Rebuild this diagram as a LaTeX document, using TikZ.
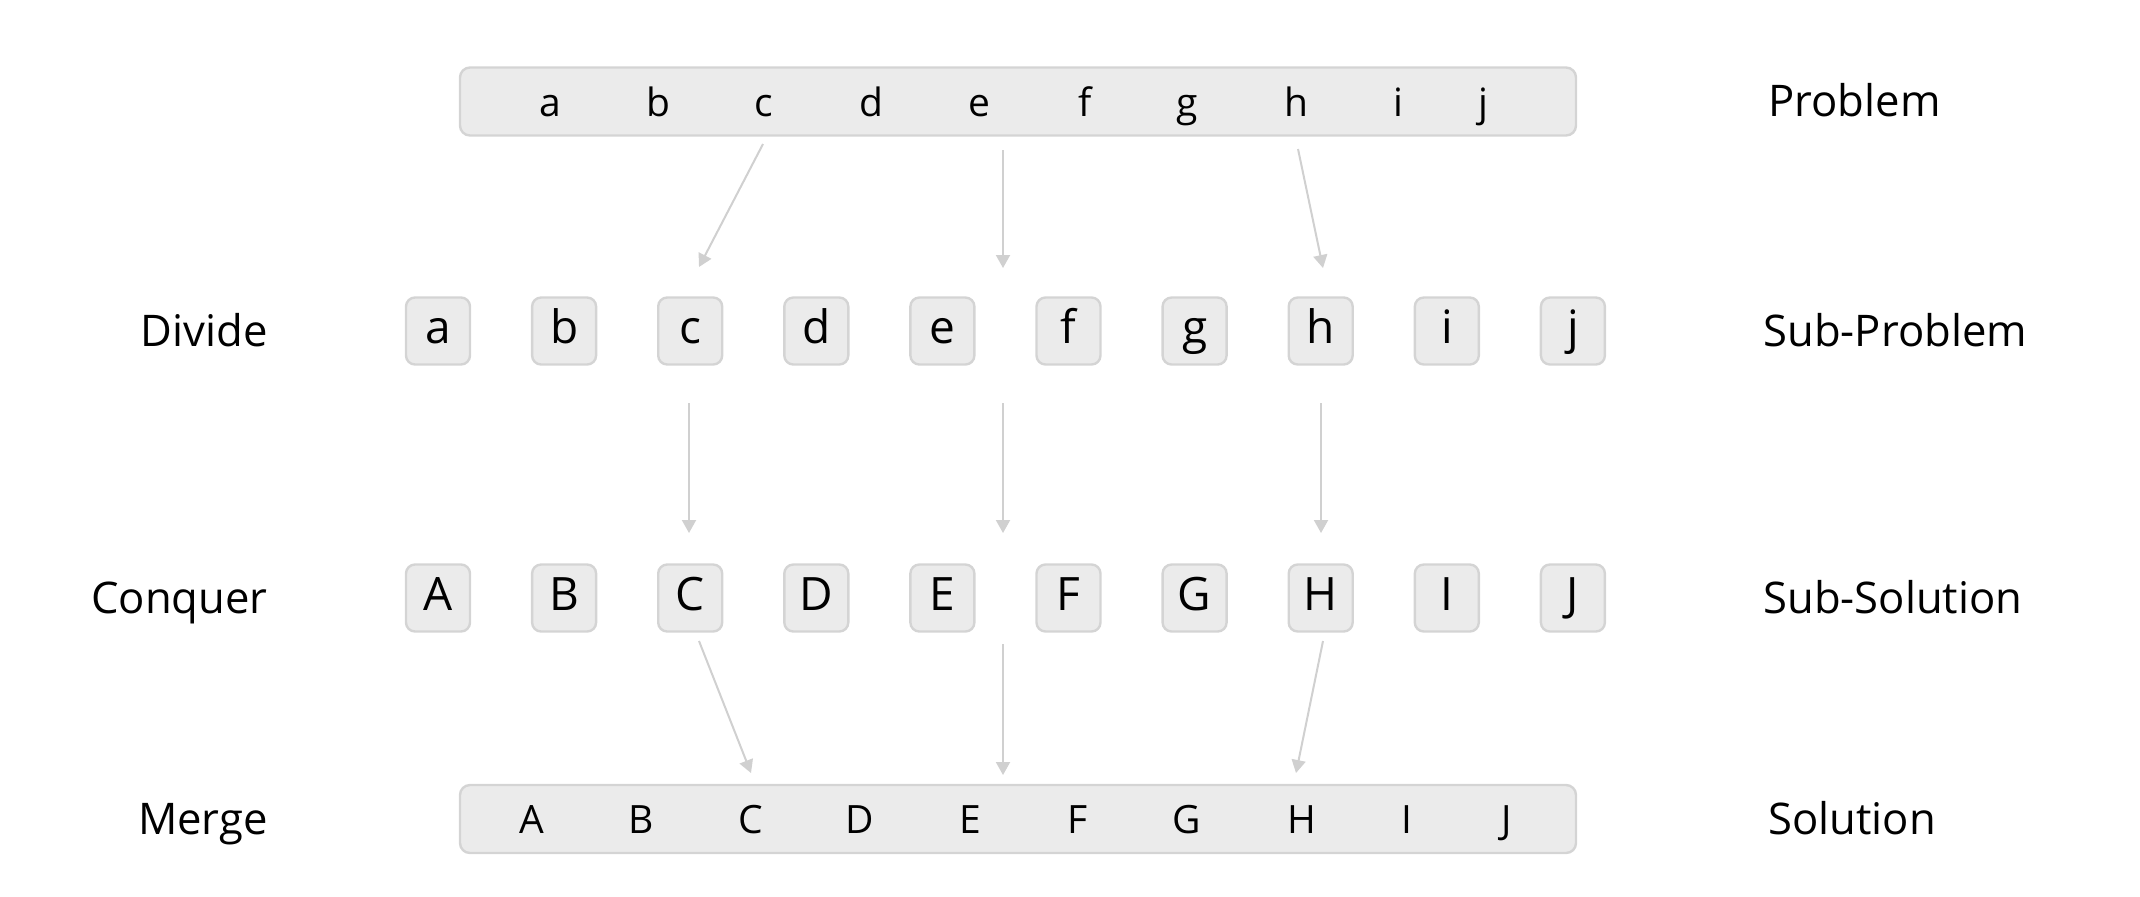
\documentclass[tikz,border=0pt]{standalone}
\usepackage{fontspec}
\setmainfont{Open Sans}
\usetikzlibrary{arrows.meta}
\definecolor{boxfill}{HTML}{EBEBEB}
\definecolor{boxline}{HTML}{D4D4D4}
\definecolor{arrowcol}{HTML}{D0D0D0}
\begin{document}
\begin{tikzpicture}[x=0.5pt,y=-0.5pt,
  bar/.style={draw=boxline, fill=boxfill, line width=1.2pt, rounded corners=5pt,
    minimum width=558pt, minimum height=34pt, inner sep=0pt},
  cell/.style={draw=boxline, fill=boxfill, line width=1.2pt, rounded corners=4.5pt,
    minimum width=32pt, minimum height=33.5pt, inner sep=0pt,
    text height=16pt, text depth=4pt, font=\fontsize{23}{27}\selectfont},
  barletter/.style={inner sep=0pt, anchor=base, font=\fontsize{19.5}{23}\selectfont},
  lbl/.style={inner sep=0pt, font=\fontsize{21.8}{26}\selectfont},
  arr/.style={draw=arrowcol, line width=1pt, -{Triangle[length=6.5pt,width=7pt]}}
]
\useasboundingbox (0,0) rectangle (2140,896);

% top bar
\node[bar] (prob) at (1018,101.5) {};
\foreach \l/\x in {a/550,b/658,c/764,d/871,e/979,f/1085,g/1187,h/1296,i/1398,j/1483}
  \node[barletter] (t\l) at (\x,116) {\l};

% sub-problems
\foreach \l [count=\k from 0] in {a,b,c,d,e,f,g,h,i,j}
  \node[cell] (s\l) at ({438+126.1*\k},331) {\l};

% sub-solutions
\foreach \l [count=\k from 0] in {A,B,C,D,E,F,G,H,I,J}
  \node[cell] (u\l) at ({438+126.1*\k},598) {\l};

% bottom bar
\node[bar] (sol) at (1018,819) {};
\foreach \l/\x in {A/532,B/641,C/751,D/860,E/970,F/1078,G/1187,H/1302,I/1407,J/1507}
  \node[barletter] (b\l) at (\x,833) {\l};

% labels
\node[lbl, anchor=base east] (ldiv) at (268,346) {Divide};
\node[lbl, anchor=base east] (lcon) at (268,613) {Conquer};
\node[lbl, anchor=base east] (lmer) at (268,834) {Merge};
\node[lbl, anchor=base west] (rprob) at (1768,116) {Problem};
\node[lbl, anchor=base west] (rsub) at (1763,346) {Sub-Problem};
\node[lbl, anchor=base west] (rsubsol) at (1763,613) {Sub-Solution};
\node[lbl, anchor=base west] (rsol) at (1768,834) {Solution};

% arrow end points
\coordinate (c1s) at (763,144);  \coordinate (c1e) at (699,267);
\coordinate (e1s) at (1003,150); \coordinate (e1e) at (1003,268);
\coordinate (h1s) at (1298,149); \coordinate (h1e) at (1323,268);
\coordinate (c2s) at (689,403);  \coordinate (c2e) at (689,533);
\coordinate (e2s) at (1003,403); \coordinate (e2e) at (1003,533);
\coordinate (h2s) at (1321,403); \coordinate (h2e) at (1321,533);
\coordinate (c3s) at (699,641);  \coordinate (c3e) at (751,773);
\coordinate (e3s) at (1003,644); \coordinate (e3e) at (1003,775);
\coordinate (h3s) at (1323,641); \coordinate (h3e) at (1296,773);

\foreach \s/\e in {c1s/c1e,e1s/e1e,h1s/h1e,c2s/c2e,e2s/e2e,h2s/h2e,c3s/c3e,e3s/e3e,h3s/h3e}
  \draw[arr] (\s) -- (\e);
\end{tikzpicture}
\end{document}
